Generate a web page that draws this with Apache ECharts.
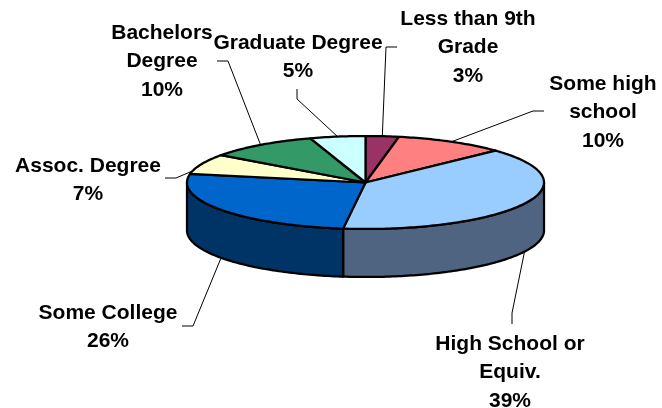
<!DOCTYPE html>
<html>
<head>
<meta charset="utf-8">
<style>
  html, body { margin: 0; padding: 0; background: #fff; }
  #chart { width: 662px; height: 408px; }
</style>
<script src="https://cdn.jsdelivr.net/npm/echarts@6/dist/echarts.min.js"></script>
</head>
<body>
<div id="chart"></div>
<script>
// Educational attainment, share of population in percent, clockwise from 12 o'clock
const categories = ['Less than 9th\nGrade', 'Some high\nschool', 'High School or\nEquiv.', 'Some College', 'Assoc. Degree', 'Bachelors\nDegree', 'Graduate Degree'];
const shares = [3, 10, 39, 26, 7, 10, 5];
const topColors = ['#993366', '#FF8080', '#99CCFF', '#0066CC', '#FFFFCC', '#339966', '#CCFFFF'];
const wallColors = ['#4D1A33', '#804040', '#4F6480', '#003366', '#808066', '#1A4D33', '#668080'];

// Label block centre and first baseline row, then the elbow of each leader line
const labelCentreX = [468, 603, 510, 108, 88, 162, 298];
const labelTopY = [18, 83, 343, 312, 165, 32, 42];
const leaderElbows = [
  [[397, 47], [386, 47]],
  [[544, 111], [533, 111]],
  [[512, 324], [512, 313]],
  [[182, 326], [193, 326]],
  [[165, 178], [176, 178]],
  [[217, 61], [228, 61]],
  [[297, 89], [297, 99]]
];
// Degrees added to a slice's middle angle where its leader lands off-centre
const leaderAngleNudge = [0, 0, 0, 0, -9, 0, 0];

// Pie disc geometry
const CX = 365.5, CY = 182.5, RX = 178.5, RY = 46.5, DEPTH = 48;
const TEXT_FONT = '"Liberation Sans", Arial, sans-serif';
const LINE_H = 28.5;

const total = shares.reduce((a, b) => a + b, 0);
let running = 0;
const sliceRows = shares.map((share) => {
  const row = [running, running + share];
  running += share;
  return row;
});

const toDeg = (v) => (v / total) * 360;
const rim = (deg, drop) => {
  const t = (deg * Math.PI) / 180;
  return [CX + RX * Math.sin(t), CY - RY * Math.cos(t) + (drop || 0)];
};
const arc = (from, to, drop) => {
  const pts = [];
  const n = Math.max(2, Math.ceil(Math.abs(to - from)));
  for (let i = 0; i <= n; i++) pts.push(rim(from + ((to - from) * i) / n, drop));
  return pts;
};

const renderWall = (params, api) => {
  const from = Math.max(toDeg(api.value(0)), 90);
  const to = Math.min(toDeg(api.value(1)), 270);
  if (to <= from) return null;
  return {
    type: 'polygon',
    shape: { points: arc(from, to, 0).concat(arc(to, from, DEPTH)) },
    style: { fill: wallColors[params.dataIndex], stroke: '#000', lineWidth: 2.25, lineJoin: 'round' }
  };
};

const renderTop = (params, api) => ({
  type: 'polygon',
  shape: { points: [[CX, CY]].concat(arc(toDeg(api.value(0)), toDeg(api.value(1)), 0)) },
  style: { fill: topColors[params.dataIndex], stroke: '#000', lineWidth: 2.25, lineJoin: 'round' }
});

const renderLabel = (params, api) => {
  const i = params.dataIndex;
  const mid = toDeg((api.value(0) + api.value(1)) / 2) + leaderAngleNudge[i];
  const onWall = mid > 90 && mid < 270;
  const anchor = rim(mid, onWall ? DEPTH : 0);
  return {
    type: 'group',
    children: [
      {
        type: 'polyline',
        shape: { points: leaderElbows[i].concat([anchor]) },
        style: { fill: 'none', stroke: '#000', lineWidth: 1 }
      },
      {
        type: 'text',
        x: labelCentreX[i],
        y: labelTopY[i] - LINE_H / 2 + 1,
        style: {
          text: categories[i] + '\n' + shares[i] + '%',
          align: 'center',
          verticalAlign: 'top',
          fill: '#000',
          font: 'bold 21px ' + TEXT_FONT,
          lineHeight: LINE_H
        }
      }
    ]
  };
};

const chart = echarts.init(document.getElementById('chart'), null, { renderer: 'canvas' });
const customSeries = (renderItem, z) => ({
  type: 'custom',
  coordinateSystem: 'none',
  data: sliceRows,
  renderItem,
  z,
  silent: true,
  clip: false
});
chart.setOption({
  animation: false,
  backgroundColor: '#fff',
  series: [customSeries(renderWall, 1), customSeries(renderTop, 2), customSeries(renderLabel, 3)]
});
</script>
</body>
</html>
